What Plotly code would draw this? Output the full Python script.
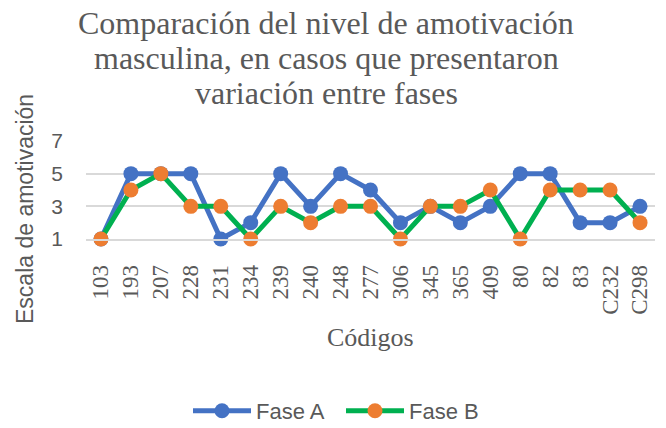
import plotly.graph_objects as go

codigos = ["103", "193", "207", "228", "231", "234", "239", "240", "248", "277",
           "306", "345", "365", "409", "80", "82", "83", "C232", "C298"]
fase_a = [1, 5, 5, 5, 1, 2, 5, 3, 5, 4, 2, 3, 2, 3, 5, 5, 2, 2, 3]
fase_b = [1, 4, 5, 3, 3, 1, 3, 2, 3, 3, 1, 3, 3, 4, 1, 4, 4, 4, 2]
y_ticks = [1, 3, 5, 7]
title_lines = ["Comparación del nivel de amotivación",
               "masculina, en casos que presentaron",
               "variación entre fases"]

W, H = 666, 428
L, R, T, B = 86, 11, 141, 189
pw = W - L - R
ph = H - T - B

def px_x(x):
    return (x - L) / pw

def px_y(y):
    return (H - B - y) / ph

GRAY = "#595959"
SERIF = "Liberation Serif, Times New Roman, serif"
SANS = "Liberation Sans, Arial, sans-serif"

fig = go.Figure()
fig.add_trace(go.Scatter(
    x=codigos, y=fase_a, name="Fase A", mode="lines+markers",
    line=dict(color="#4472C4", width=5),
    marker=dict(color="#4472C4", size=15),
    cliponaxis=False,
))
fig.add_trace(go.Scatter(
    x=codigos, y=fase_b, name="Fase B", mode="lines+markers",
    line=dict(color="#00B050", width=5),
    marker=dict(color="#ED7D31", size=15),
    cliponaxis=False,
))

annotations = []
for i, line in enumerate(title_lines):
    annotations.append(dict(
        text=line, xref="paper", yref="paper",
        x=px_x(326), y=px_y(23 + 35 * i),
        xanchor="center", yanchor="middle", showarrow=False,
        font=dict(family=SERIF, size=32, color=GRAY),
    ))
annotations.append(dict(
    text="Códigos", xref="paper", yref="paper",
    x=0.5, y=px_y(337), xanchor="center", yanchor="middle", showarrow=False,
    font=dict(family=SERIF, size=26, color=GRAY),
))
annotations.append(dict(
    text="Escala de amotivación", xref="paper", yref="paper",
    x=px_x(25), y=px_y(209), xanchor="center", yanchor="middle", showarrow=False,
    textangle=-90,
    font=dict(family=SANS, size=23, color=GRAY),
))

fig.update_layout(
    width=W, height=H,
    margin=dict(l=L, r=R, t=T, b=B, autoexpand=False),
    paper_bgcolor="white", plot_bgcolor="white",
    showlegend=True,
    legend=dict(orientation="h", xref="container", yref="container",
                x=341 / W, y=(H - 411) / H,
                xanchor="center", yanchor="middle",
                font=dict(family=SANS, size=22, color=GRAY),
                itemwidth=58, tracegroupgap=0,
                entrywidth=80, entrywidthmode="pixels"),
    annotations=annotations,
    xaxis=dict(type="category", showgrid=False, showline=True, automargin=False,
               linecolor="#D9D9D9", linewidth=1.5, tickangle=-90,
               ticks="", ticklabelstandoff=15,
               tickfont=dict(family=SERIF, size=23, color=GRAY),
               range=[-0.5, len(codigos) - 0.5]),
    yaxis=dict(range=[1, 7], tickvals=y_ticks, showgrid=True, automargin=False,
               gridcolor="#D9D9D9", gridwidth=1.5, zeroline=False,
               showline=False, ticks="", ticklabelstandoff=22,
               tickfont=dict(family=SANS, size=21, color=GRAY)),
)

fig.write_html("out.html", config={"displayModeBar": False},
               post_script="document.body.style.margin='0';")
